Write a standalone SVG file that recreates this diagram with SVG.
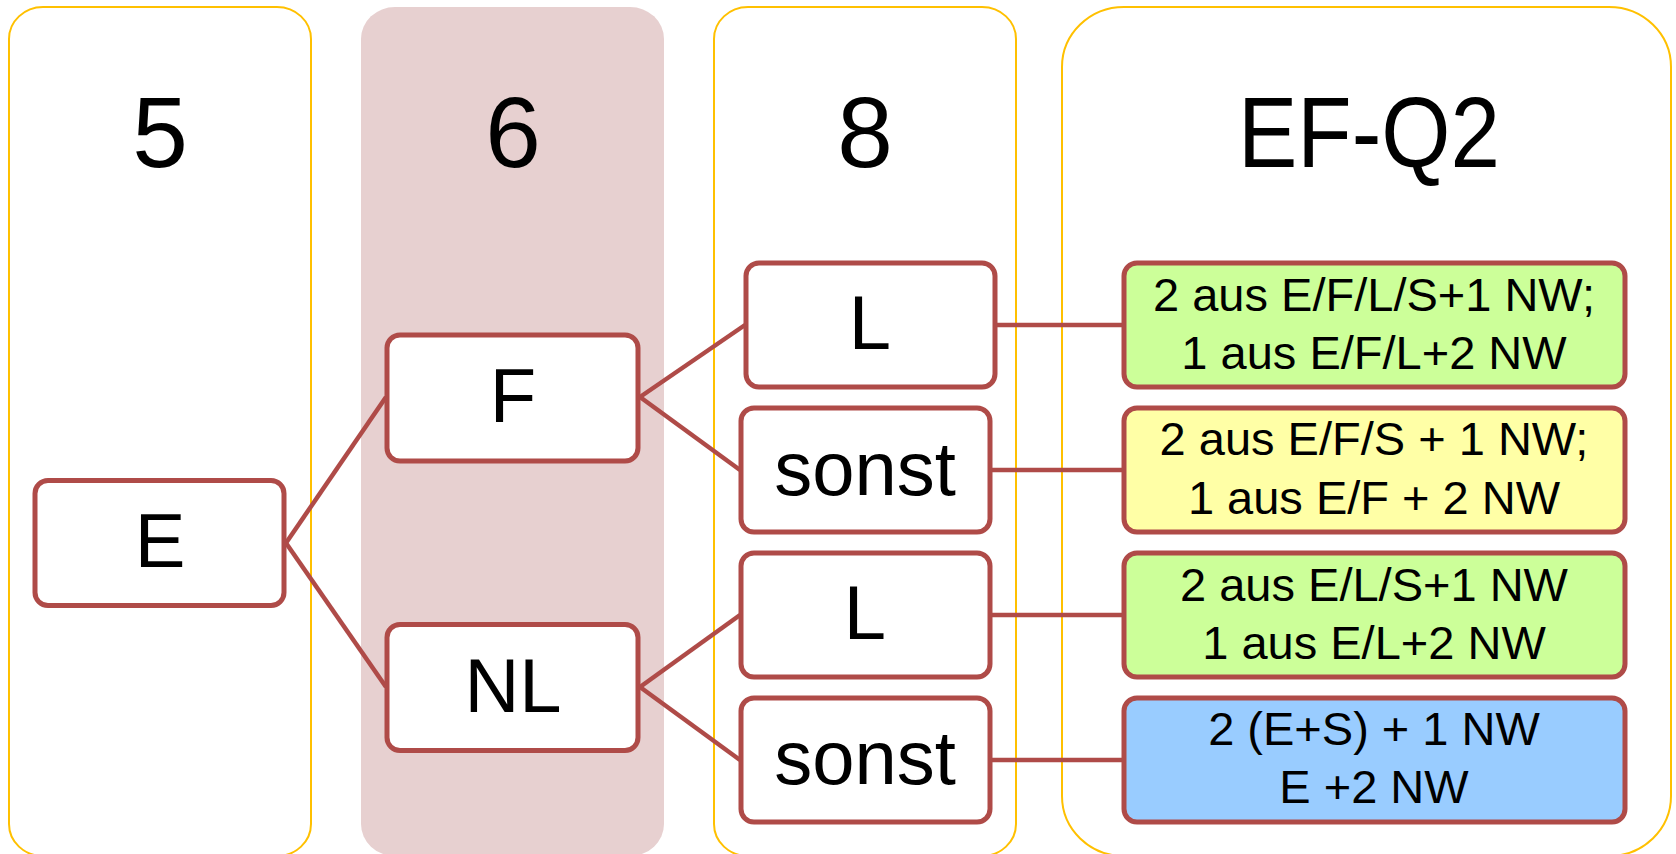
<svg xmlns="http://www.w3.org/2000/svg" width="1676" height="854" viewBox="0 0 1676 854">
<style>
.col{fill:#ffffff;stroke:#FFC000;stroke-width:2}
.colp{fill:#E7D0D0;stroke:none}
.hd{font-family:"Liberation Sans",Arial,sans-serif;font-size:100px;fill:#000;text-anchor:middle}
.nb{fill:#ffffff;stroke:#AF4B48;stroke-width:5}
.nt{font-family:"Liberation Sans",Arial,sans-serif;font-size:76px;fill:#000;text-anchor:middle}
.bt{font-family:"Liberation Sans",Arial,sans-serif;font-size:47px;fill:#000;text-anchor:middle}
.cn{stroke:#AF4B48;stroke-width:4.5;fill:none}
</style>
<rect width="1676" height="854" fill="#ffffff"/>
<g id="col5"><rect class="col" x="9" y="7" width="302" height="849" rx="34" ry="32"/><text class="hd" x="160" y="167">5</text></g>
<g id="col6"><rect class="colp" x="361" y="7" width="303" height="849" rx="34" ry="32"/><text class="hd" x="513" y="167">6</text></g>
<g id="col8"><rect class="col" x="714" y="7" width="302" height="849" rx="34" ry="32"/><text class="hd" x="865" y="167">8</text></g>
<g id="colEFQ2"><rect class="col" x="1062" y="7" width="609" height="849" rx="62" ry="60"/><text class="hd" x="1369" y="167" textLength="262" lengthAdjust="spacingAndGlyphs">EF-Q2</text></g>
<g id="connectors">
<line class="cn" x1="286" y1="543" x2="386" y2="397"/>
<line class="cn" x1="286" y1="543" x2="386" y2="687"/>
<line class="cn" x1="640" y1="397" x2="745" y2="325"/>
<line class="cn" x1="640" y1="397" x2="740" y2="470"/>
<line class="cn" x1="640" y1="687" x2="740" y2="615"/>
<line class="cn" x1="640" y1="687" x2="740" y2="760"/>
<line class="cn" x1="996" y1="325" x2="1124" y2="325"/>
<line class="cn" x1="991" y1="470" x2="1124" y2="470"/>
<line class="cn" x1="991" y1="615" x2="1124" y2="615"/>
<line class="cn" x1="991" y1="760" x2="1124" y2="760"/>
</g>
<g id="nE"><rect class="nb" x="35" y="480.5" width="249" height="125" rx="13"/><text class="nt" x="160" y="567">E</text></g>
<g id="nF"><rect class="nb" x="387" y="335" width="251" height="126" rx="13"/><text class="nt" x="513" y="422">F</text></g>
<g id="nNL"><rect class="nb" x="387" y="624.5" width="251" height="126" rx="13"/><text class="nt" x="513" y="712">NL</text></g>
<g id="nL1"><rect class="nb" x="746" y="263" width="249" height="124" rx="13"/><text class="nt" x="870" y="349">L</text></g>
<g id="nS1"><rect class="nb" x="741" y="408" width="249" height="124" rx="13"/><text class="nt" x="865" y="495">sonst</text></g>
<g id="nL2"><rect class="nb" x="741" y="553" width="249" height="124" rx="13"/><text class="nt" x="865" y="639">L</text></g>
<g id="nS2"><rect class="nb" x="741" y="698" width="249" height="124" rx="13"/><text class="nt" x="865" y="784">sonst</text></g>
<g id="r1"><rect class="nb" x="1124" y="263" width="501" height="124" rx="13" style="fill:#CCFF99"/><text class="bt" x="1374" y="311">2 aus E/F/L/S+1 NW;</text><text class="bt" x="1374" y="369">1 aus E/F/L+2 NW</text></g>
<g id="r2"><rect class="nb" x="1124" y="408" width="501" height="124" rx="13" style="fill:#FFFFA6"/><text class="bt" x="1374" y="455">2 aus E/F/S + 1 NW;</text><text class="bt" x="1374" y="514">1 aus E/F + 2 NW</text></g>
<g id="r3"><rect class="nb" x="1124" y="553" width="501" height="124" rx="13" style="fill:#CCFF99"/><text class="bt" x="1374" y="601">2 aus E/L/S+1 NW</text><text class="bt" x="1374" y="659">1 aus E/L+2 NW</text></g>
<g id="r4"><rect class="nb" x="1124" y="698" width="501" height="124" rx="13" style="fill:#99CCFF"/><text class="bt" x="1374" y="745">2 (E+S) + 1 NW</text><text class="bt" x="1374" y="803">E +2 NW</text></g>
</svg>
